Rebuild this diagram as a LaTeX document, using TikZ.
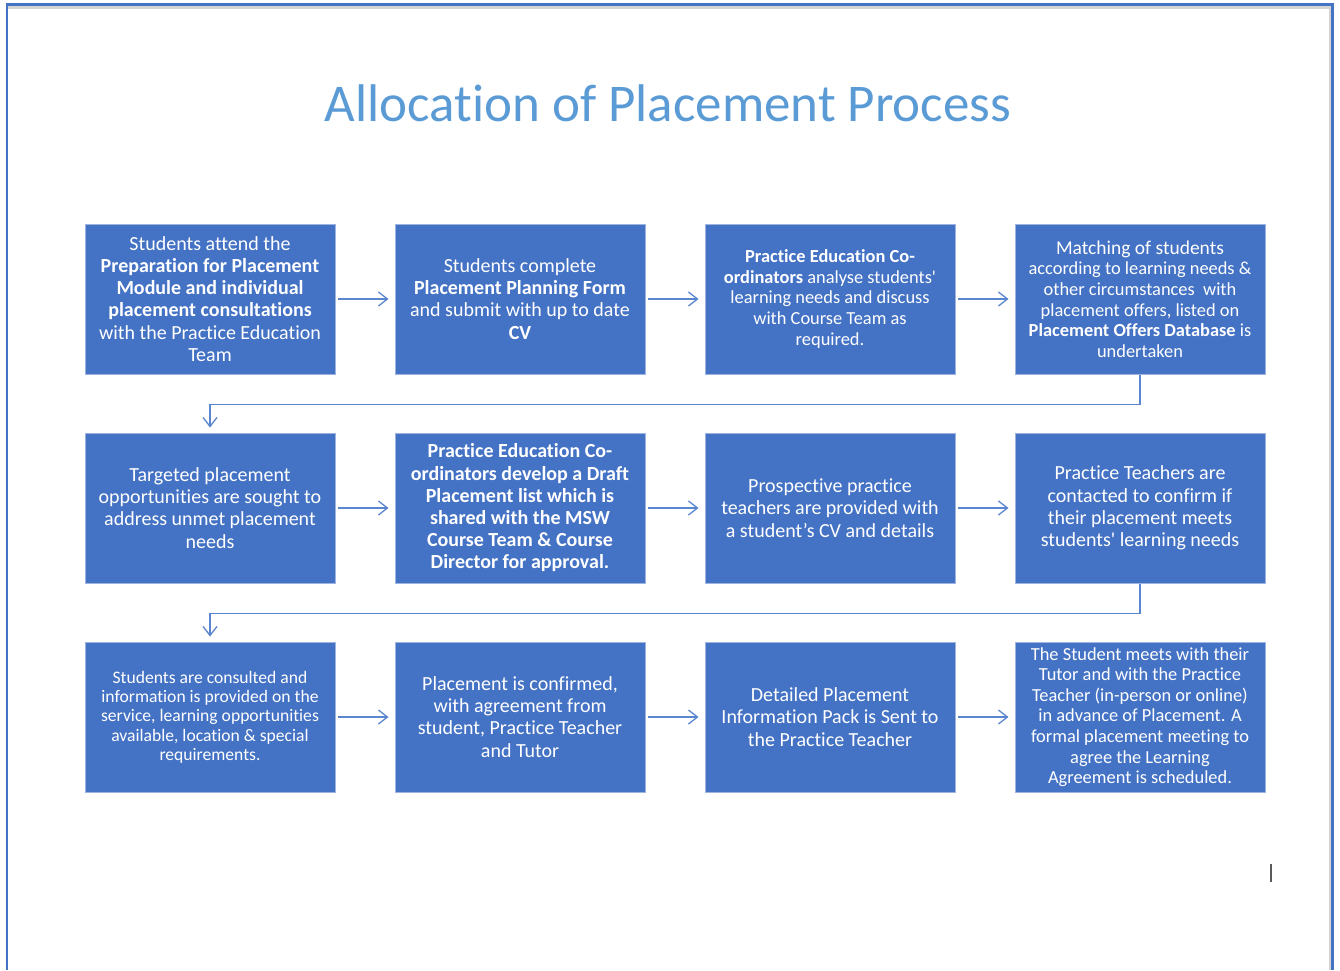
\documentclass[tikz,border=0pt]{standalone}
\usepackage{fontspec}
\setmainfont{Carlito}[Ligatures={TeX,NoCommon}]
\usetikzlibrary{arrows.meta}
\definecolor{boxblue}{HTML}{4472C4}
\definecolor{boxedge}{HTML}{9DB4E0}
\definecolor{linkblue}{HTML}{5A85CF}
\definecolor{titleblue}{HTML}{5B9BD5}
\definecolor{frameblue}{HTML}{4472C4}
\definecolor{framegrey}{HTML}{D4D4D4}
\newcommand{\sq}{\textquotesingle}
\tikzset{
  stepbox/.style={fill=boxblue, draw=boxedge, line width=1pt, minimum width=250pt, minimum height=150pt,
    text=white, align=center, inner sep=0pt, font=\fontsize{20}{22.2}\selectfont},
  smalltext/.style={font=\fontsize{18.4}{20.6}\selectfont},
  tinytext/.style={font=\fontsize{17.6}{19.3}\selectfont},
  link/.style={draw=linkblue, line width=1.3pt, -{Straight Barb[length=9pt,width=14pt,line width=1.3pt]}},
}
\begin{document}
\begin{tikzpicture}[x=1pt,y=-1pt]
\useasboundingbox (0,0) rectangle (1340,970);
\fill[white] (0,0) rectangle (1340,970);
% page frame
\fill[framegrey] (8,5.5) rectangle (1331,9);
\fill[framegrey] (1329,5.5) rectangle (1331,970);
\fill[frameblue] (6,3) rectangle (1334,5.5);
\fill[frameblue] (6,3) rectangle (8,970);
\fill[frameblue] (1331,3) rectangle (1334,970);
% cursor
\draw[black!65, line width=1.5pt] (1271,864) -- (1271,882);
% title
\node[anchor=base, text=titleblue, font=\fontsize{53}{60}\selectfont] (title) at (668,121) {Allocation of Placement Process};
% row 1
\node[stepbox] (b1) at (210,299) {Students attend the\\\textbf{Preparation for Placement}\\\textbf{Module and individual}\\\textbf{placement consultations}\\with the Practice Education\\Team};
\node[stepbox] (b2) at (520,299) {Students complete\\\textbf{Placement Planning Form}\\and submit with up to date\\\textbf{CV}};
\node[stepbox, smalltext] (b3) at (830,299) {\textbf{Practice Education Co-}\\\textbf{ordinators} analyse students\sq\\learning needs and discuss\\with Course Team as\\required.};
\node[stepbox, smalltext] (b4) at (1140,299) {{\fontsize{19.5}{20.6}\selectfont Matching of students}\\according to learning needs \&\\other circumstances\ \ with\\placement offers, listed on\\\textbf{Placement Offers Database} is\\undertaken};
% row 2
\node[stepbox] (b5) at (210,508) {Targeted placement\\opportunities are sought to\\address unmet placement\\needs};
\node[stepbox] (b6) at (520,508) {\textbf{Practice Education Co-}\\\textbf{ordinators develop a Draft}\\\textbf{Placement list which is}\\\textbf{shared with the MSW}\\\textbf{Course Team \& Course}\\\textbf{Director for approval.}};
\node[stepbox] (b7) at (830,508) {Prospective practice\\teachers are provided with\\a student’s CV and details};
\node[stepbox] (b8) at (1140,508) {Practice Teachers are\\contacted to confirm if\\their placement meets\\students\sq{} learning needs};
% row 3
\node[stepbox, tinytext] (b9) at (210,717) {Students are consulted and\\information is provided on the\\service, learning opportunities\\available, location \& special\\requirements.};
\node[stepbox] (b10) at (520,717) {Placement is confirmed,\\with agreement from\\student, Practice Teacher\\and Tutor};
\node[stepbox] (b11) at (830,717) {Detailed Placement\\Information Pack is Sent to\\the Practice Teacher};
\node[stepbox, smalltext] (b12) at (1140,717) {The Student meets with their\\Tutor and with the Practice\\Teacher (in-person or online)\\in advance of Placement. A\\formal placement meeting to\\agree the Learning\\Agreement is scheduled.};
% connectors
\foreach \a/\b in {b1/b2,b2/b3,b3/b4,b5/b6,b6/b7,b7/b8,b9/b10,b10/b11,b11/b12}
  \draw[link, shorten <=2pt, shorten >=6pt] (\a.east) -- (\b.west);
\draw[link, shorten >=5pt] (b4.south) -- ++(0,30) -| (b5.north);
\draw[link, shorten >=5pt] (b8.south) -- ++(0,30) -| (b9.north);
\end{tikzpicture}
\end{document}
